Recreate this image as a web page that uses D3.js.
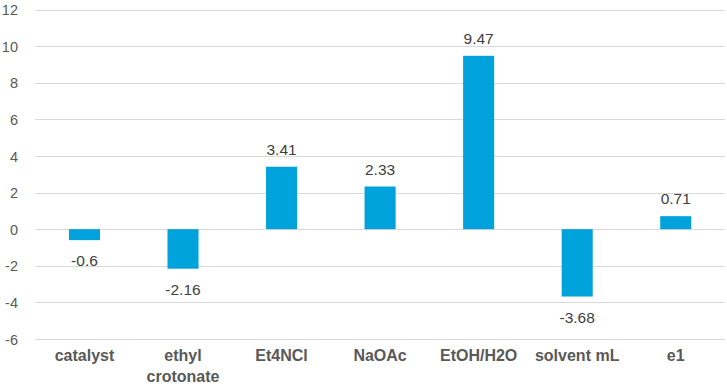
<!DOCTYPE html>
<html>
<head>
<meta charset="utf-8">
<script src="https://cdn.jsdelivr.net/npm/d3@7"></script>
<style>
html,body{margin:0;padding:0;background:#fff;}
svg{display:block;}
text{font-family:"Liberation Sans",Arial,sans-serif;}
</style>
</head>
<body>
<svg id="chart" width="727" height="384"></svg>
<script>
const categories = ["catalyst", "ethyl crotonate", "Et4NCl", "NaOAc", "EtOH/H2O", "solvent mL", "e1"];
const categoryLines = [["catalyst"], ["ethyl", "crotonate"], ["Et4NCl"], ["NaOAc"], ["EtOH/H2O"], ["solvent mL"], ["e1"]];
const values = [-0.6, -2.16, 3.41, 2.33, 9.47, -3.68, 0.71];
const valueLabels = ["-0.6", "-2.16", "3.41", "2.33", "9.47", "-3.68", "0.71"];
const yTicks = [-6, -4, -2, 0, 2, 4, 6, 8, 10, 12];

const svg = d3.select("#chart");
const mLeft = 35.2, mRight = 725, mTop = 9.5, mBottom = 339;

const x = d3.scaleBand().domain(categories).range([mLeft, mRight]).paddingInner(0.685).paddingOuter(0.3425);
const y = d3.scaleLinear().domain([-6, 12]).range([mBottom, mTop]);

// gridlines
svg.append("g").selectAll("line").data(yTicks).join("line")
  .attr("x1", mLeft).attr("x2", mRight)
  .attr("y1", d => Math.round(y(d)) + 0.5).attr("y2", d => Math.round(y(d)) + 0.5)
  .attr("stroke", "#d9d9d9").attr("stroke-width", 1);

// y axis labels
const yAxis = d3.axisLeft(y).tickValues(yTicks).tickSize(0).tickPadding(0).tickFormat(d => String(d));
const gy = svg.append("g").attr("transform", "translate(18,0)").call(yAxis);
gy.select(".domain").remove();
gy.selectAll("text").attr("font-size", 14.5).attr("fill", "#595959")
  .attr("font-family", "Liberation Sans, Arial, sans-serif").attr("dy", "0.35em");

// bars
svg.append("g").selectAll("rect").data(values).join("rect")
  .attr("x", (d, i) => x(categories[i]))
  .attr("width", x.bandwidth())
  .attr("y", d => Math.min(y(d), y(0)))
  .attr("height", d => Math.abs(y(d) - y(0)))
  .attr("fill", "#00a2dc");

// value labels
svg.append("g").selectAll("text").data(values).join("text")
  .attr("x", (d, i) => x(categories[i]) + x.bandwidth() / 2)
  .attr("y", d => d >= 0 ? y(d) - 12 : y(d) + 26)
  .attr("text-anchor", "middle")
  .attr("font-size", 15.5).attr("fill", "#404040")
  .text((d, i) => valueLabels[i]);

// category labels
const cg = svg.append("g").selectAll("text").data(categoryLines).join("text")
  .attr("x", (d, i) => x(categories[i]) + x.bandwidth() / 2)
  .attr("y", 361)
  .attr("text-anchor", "middle")
  .attr("font-size", 16).attr("font-weight", "bold").attr("fill", "#595959");
cg.each(function(lines, i) {
  const t = d3.select(this);
  const cx = x(categories[i]) + x.bandwidth() / 2;
  lines.forEach((l, j) => t.append("tspan").attr("x", cx).attr("dy", j === 0 ? 0 : 20.5).text(l));
});
</script>
</body>
</html>
